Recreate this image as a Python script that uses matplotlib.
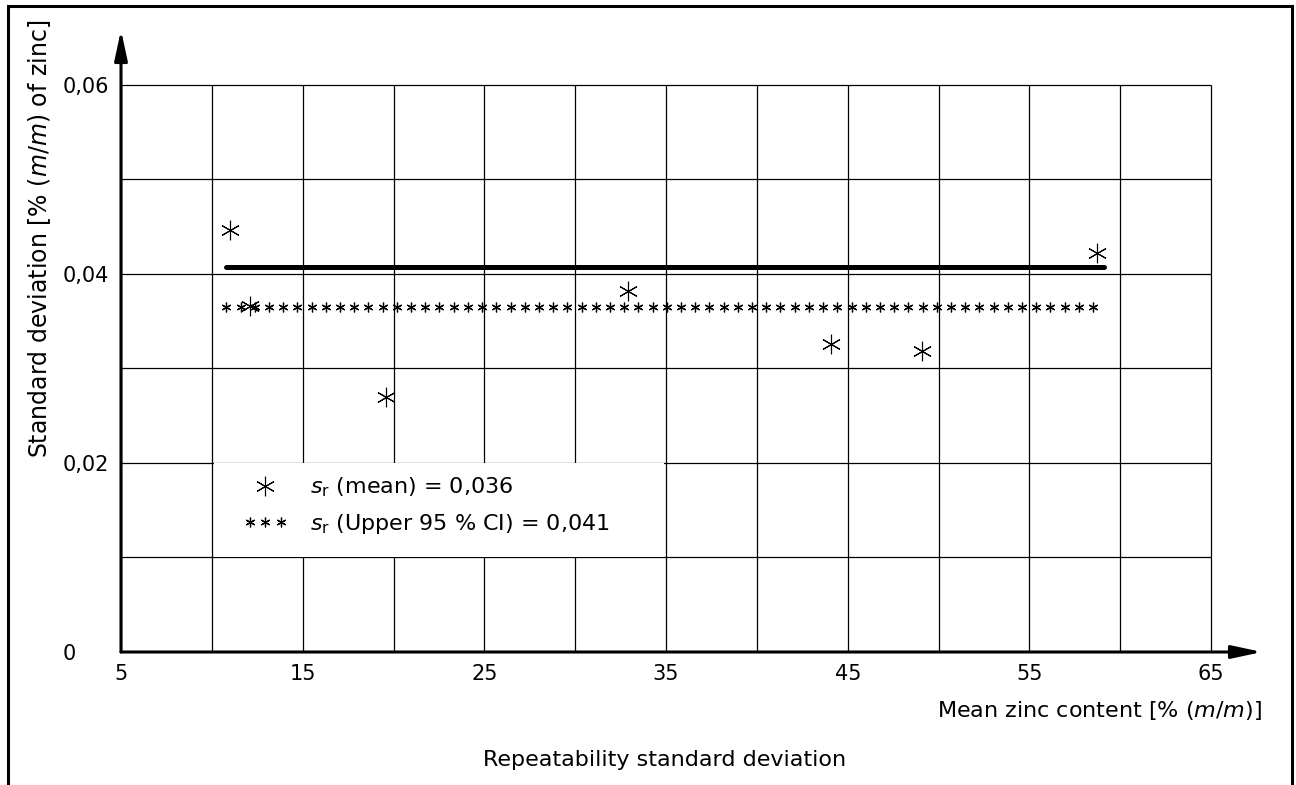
import numpy as np
import matplotlib.pyplot as plt
from matplotlib.lines import Line2D
from matplotlib.legend_handler import HandlerLine2D
from matplotlib.patches import Rectangle

# data
zinc_mean = [11.0, 12.1, 19.6, 32.9, 44.1, 49.1, 58.7]
sr = [0.0446, 0.0366, 0.0270, 0.0382, 0.0326, 0.0318, 0.0422]
sr_mean = 0.0365
sr_upper = 0.0407

x_ticks = [5, 15, 25, 35, 45, 55, 65]
x_grid = np.arange(5, 66, 5)
y_ticks = [0, 0.02, 0.04, 0.06]
y_tick_labels = ['0', '0,02', '0,04', '0,06']
y_grid = [0, 0.01, 0.02, 0.03, 0.04, 0.05, 0.06]

plt.rcParams['font.family'] = 'DejaVu Sans'
plt.rcParams['mathtext.fontset'] = 'dejavusans'
fs = 16

W, H = 1296, 785
fig = plt.figure(figsize=(W / 100, H / 100), dpi=100)
ax = fig.add_axes([121 / W, 1 - 652 / H, (1262 - 121) / W, (652 - 30) / H])
ax.set_xlim(5, 67.8)
ax.set_ylim(0, 0.0658)
for s in ax.spines.values():
    s.set_visible(False)

# grid
ax.vlines(x_grid, 0, 0.06, color='black', lw=0.9, zorder=1)
ax.hlines(y_grid, 5, 65, color='black', lw=0.9, zorder=1)

# blank cell block behind legend
ax.add_patch(Rectangle((10.1, 0.01), 24.8, 0.01, facecolor='white',
                       edgecolor='none', zorder=2))

# axes with arrows
arr = dict(arrowstyle='-|>,head_length=1.3,head_width=0.28', lw=2.2,
           color='black', shrinkA=0, shrinkB=0, mutation_scale=14)
ax.annotate('', xy=(67.8, 0), xytext=(5, 0), arrowprops=arr,
            annotation_clip=False, zorder=5)
ax.annotate('', xy=(5, 0.0658), xytext=(5, 0), arrowprops=arr,
            annotation_clip=False, zorder=5)

star = (6, 2, 0)
x0, x1 = min(zinc_mean) - 0.2, max(zinc_mean)
ax.plot(np.linspace(x0, x1 - 0.2, 62), [sr_mean] * 62, ls='none',
        marker=star, ms=7, mew=0.9, color='black', zorder=3)
ax.plot([x0, x1 + 0.4], [sr_upper, sr_upper], color='black', lw=3.6,
        solid_capstyle='round', zorder=3)
ax.plot(zinc_mean, sr, ls='none', marker=star, ms=14, mew=0.8,
        color='black', zorder=4)

ax.set_xticks(x_ticks)
ax.set_xticklabels([str(v) for v in x_ticks])
ax.set_yticks(y_ticks)
ax.set_yticklabels(y_tick_labels)
ax.tick_params(length=0, labelsize=15)
ax.tick_params(axis='x', pad=9)
ax.tick_params(axis='y', pad=42)
for lab in ax.get_yticklabels():
    lab.set_horizontalalignment('left')

h1 = Line2D([], [], ls='none', marker=star, ms=14, mew=0.8, color='black')
h2 = Line2D([], [], ls='none', marker=star, ms=7, mew=0.9, color='black')
leg = ax.legend([h1, h2],
                [r'$s_\mathrm{r}$ (mean) = 0,036',
                 r'$s_\mathrm{r}$ (Upper 95 % CI) = 0,041'],
                handler_map={h2: HandlerLine2D(numpoints=3)},
                loc='upper left', bbox_to_anchor=(234 / W, 1 - 467 / H),
                bbox_transform=fig.transFigure, frameon=False, fontsize=fs,
                handlelength=2.0, handletextpad=1.0, labelspacing=0.55,
                borderaxespad=0)
leg.set_zorder(6)

fig.text(40 / W, 1 - 239 / H, r'Standard deviation [% ($m$/$m$) of zinc]',
         rotation=90, ha='center', va='center', fontsize=fs + 1)
fig.text(1262 / W, 1 - 710 / H, r'Mean zinc content [% ($m$/$m$)]',
         ha='right', va='center', fontsize=fs)
fig.text(665 / W, 1 - 760 / H, 'Repeatability standard deviation',
         ha='center', va='center', fontsize=fs)

fig.add_artist(Rectangle((8 / W, -0.05), (1292 - 8) / W, 1.05 - 6 / H,
                         transform=fig.transFigure, fill=False,
                         edgecolor='black', lw=2.2, clip_on=False))

fig.savefig('out.png', dpi=100)
